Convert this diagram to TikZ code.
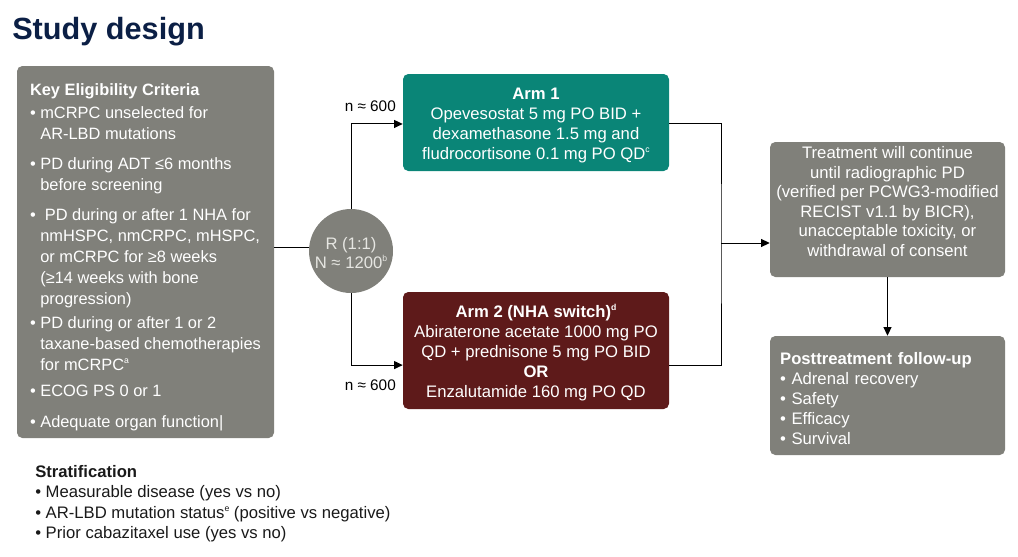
\documentclass[tikz,border=0pt]{standalone}
\usepackage{fontspec}
\setmainfont{Liberation Sans}
\usepackage{xcolor}
\usetikzlibrary{arrows.meta,positioning,calc}

\definecolor{navy}{HTML}{0B1F45}
\definecolor{panelgray}{HTML}{80807A}
\definecolor{circtext}{HTML}{E6E6E2}
\definecolor{armteal}{HTML}{0A8577}
\definecolor{armred}{HTML}{5E1A1A}

% small footnote marks
\newcommand\fnmark[1]{\raisebox{0.42em}{\fontsize{6.5}{7}\selectfont #1}}

\begin{document}
\begin{tikzpicture}[
  x=0.75pt, y=-0.75pt,
  panel/.style={rounded corners=4pt, fill=panelgray, text=white, inner sep=0pt, font=\fontsize{12.5}{15.75}\selectfont},
  arm/.style={rounded corners=4pt, text=white, align=center, inner sep=0pt, minimum width=199.5pt, font=\fontsize{12.5}{15}\selectfont},
  arrow/.style={-{Triangle[length=6.5pt,width=6pt]}, line width=0.75pt},
  link/.style={line width=0.75pt},
  label/.style={font=\fontsize{11.5}{14}\selectfont, inner sep=0pt},
]
\useasboundingbox (0,0) rectangle (1018,557);

% Title
\node[anchor=base west, inner sep=0pt, font=\fontsize{23}{28}\selectfont\bfseries, text=navy] (title) at (12,39) {Study design};

% Key eligibility criteria (left)
\node[panel, minimum width=192.75pt, minimum height=279pt, align=left, font=\fontsize{12.3}{15.75}\selectfont] (criteria) at (145.5,252) {
  \rule{0pt}{17pt}\textbf{Key Eligibility Criteria}\\[1.5pt]
  • mCRPC unselected for\\
  \phantom{• }AR-LBD mutations\\[6.75pt]
  • PD during ADT ≤6 months\\
  \phantom{• }before screening\\[6.75pt]
  • \ PD during or after 1 NHA for\\
  \phantom{• }nmHSPC, nmCRPC, mHSPC,\\
  \phantom{• }or mCRPC for ≥8 weeks\\
  \phantom{• }(≥14 weeks with bone\\
  \phantom{• }progression)\\[2.25pt]
  • PD during or after 1 or 2\\
  \phantom{• }taxane-based chemotherapies\\
  \phantom{• }for mCRPC\fnmark{a}\\[3.75pt]
  • ECOG PS 0 or 1\\[7.5pt]
  • Adequate organ function|
};

% Randomisation
\node[circle, fill=panelgray, text=circtext, minimum size=63pt, inner sep=0pt, align=center, font=\fontsize{12.5}{14.25}\selectfont] (rand) at (351,251) {\rule{0pt}{12pt}R (1:1)\\N ≈ 1200\fnmark{b}};

% Treatment arms
\node[arm, fill=armteal, minimum height=72.75pt] (arm1) at (536,122.5) {
  \rule{0pt}{13pt}\textbf{Arm 1}\\
  Opevesostat 5 mg PO BID +\\
  dexamethasone 1.5 mg and\\
  fludrocortisone 0.1 mg PO QD\fnmark{c}
};

\node[arm, fill=armred, minimum height=87.75pt] (arm2) at (536,350.5) {
  \rule{0pt}{13pt}\textbf{Arm 2 (NHA switch)\fnmark{d}}\\
  Abiraterone acetate 1000 mg PO\\
  QD + prednisone 5 mg PO BID\\
  \textbf{OR}\\
  Enzalutamide 160 mg PO QD
};

% Treatment duration and follow-up (right)
\node[panel, minimum width=176.25pt, minimum height=101.25pt, align=center, font=\fontsize{12.5}{14.6}\selectfont] (treat) at (887.5,209.5) {
  Treatment will continue\\
  until radiographic PD\\
  (verified per PCWG3-modified\\
  RECIST v1.1 by BICR),\\
  unacceptable toxicity, or\\
  withdrawal of consent\rule[-12pt]{0pt}{0pt}
};

\node[panel, minimum width=176.25pt, minimum height=89.25pt, text width=161pt, align=left, font=\fontsize{12.5}{15}\selectfont] (follow) at (887.5,395.5) {
  \rule{0pt}{13pt}\textbf{Posttreatment follow-up}\\
  • Adrenal recovery\\
  • Safety\\
  • Efficacy\\
  • Survival
};

% Stratification factors
\node[anchor=north west, inner sep=0pt, align=left, text=black!90, font=\fontsize{12.5}{15.4}\selectfont] (strat) at (35,465) {
  \textbf{Stratification}\\
  • Measurable disease (yes vs no)\\
  • AR-LBD mutation status\fnmark{e} (positive vs negative)\\
  • Prior cabazitaxel use (yes vs no)
};

% Connectors
\coordinate (arm1in) at ($(arm1.north west)!0.515!(arm1.south west)$);
\coordinate (arm1out) at ($(arm1.north east)!0.515!(arm1.south east)$);
\coordinate (arm2in) at ($(arm2.north west)!0.624!(arm2.south west)$);
\coordinate (arm2out) at ($(arm2.north east)!0.624!(arm2.south east)$);
\coordinate (join) at (721,243);

\draw[link] (criteria.east |- 0,247) -- (rand.west |- 0,247);
\draw[arrow] (rand.north) |- (arm1in);
\draw[arrow] (rand.south) |- (arm2in);
\draw[link] (arm1out) -| (join) |- (arm2out);
\draw[arrow] (join) -- (join -| treat.west);
\draw[arrow] (treat.south) -- (follow.north);

% Allocation labels
\node[label, above left=9pt and 5pt of arm1in] (nup) {n ≈ 600};
\node[label, below left=11pt and 5pt of arm2in] (ndown) {n ≈ 600};

\end{tikzpicture}
\end{document}
